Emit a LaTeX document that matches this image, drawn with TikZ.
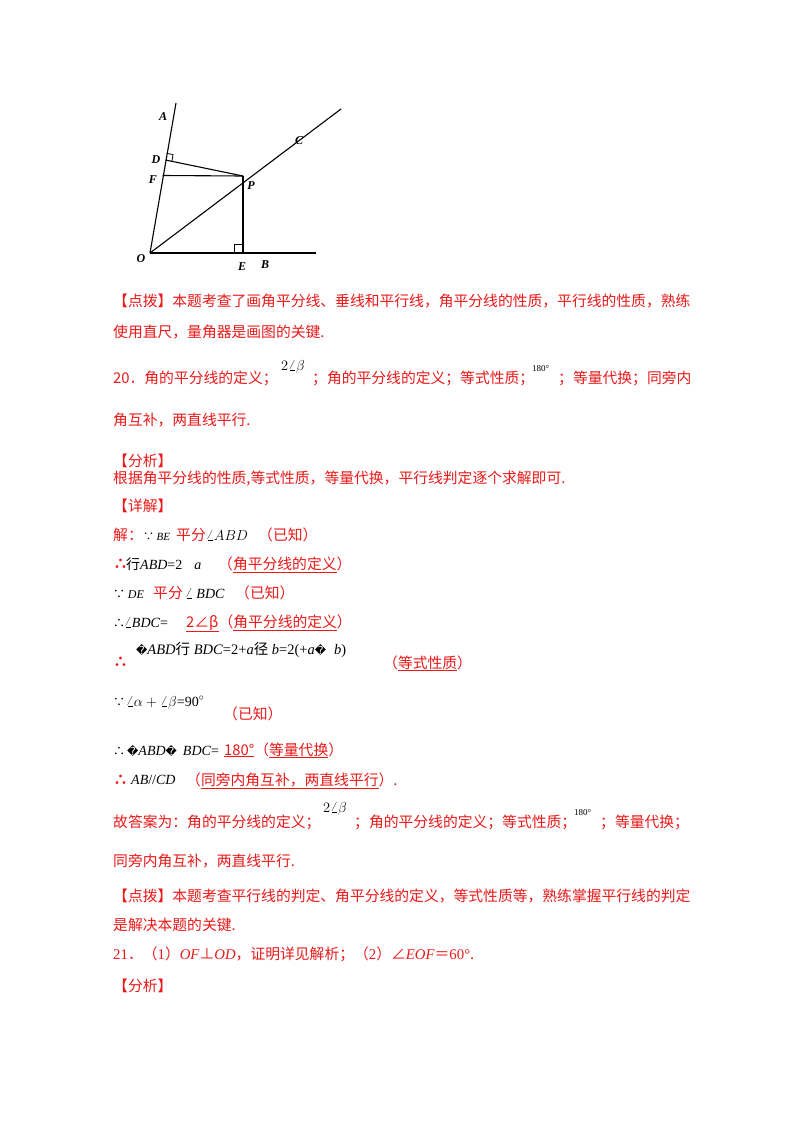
\documentclass[tikz,border=0pt]{standalone}
\usepackage{fontspec}
\setmainfont{Liberation Serif}
\newfontfamily\zh{Noto Sans CJK SC}
\newfontfamily\dv{DejaVu Sans}
\definecolor{rd}{RGB}{235,25,25}
\newcommand{\mi}[1]{{\rmfamily\itshape #1}}
\newcommand{\rs}[1]{{\rmfamily #1}}
\newcommand{\bad}{{\dv\fontsize{11}{11}\selectfont �}}
\begin{document}
\begin{tikzpicture}[x=1pt,y=-1pt,
  t/.style={anchor=base west,inner sep=0,text=rd,font=\zh\fontsize{14.8}{15}\selectfont},
  m/.style={anchor=base west,inner sep=0,text=black,font=\fontsize{14}{14}\selectfont},
  lb/.style={inner sep=0,font=\bfseries\itshape\fontsize{12}{12}\selectfont},
  ln/.style={line width=1.1pt}]
\useasboundingbox (0,0) rectangle (800,1132);
\fill[white] (0,0) rectangle (800,1132);
% figure
\coordinate (O) at (150,253);
\coordinate (A) at (176,103);
\coordinate (D) at (165.4,160);
\coordinate (F) at (162.6,175.5);
\coordinate (P) at (243,176);
\coordinate (C) at (341,109);
\coordinate (E) at (243,253);
\coordinate (B) at (316,253);
\draw[ln] (O)--(A); \draw[ln] (O)--(B); \draw[ln] (O)--(C);
\draw[ln] (D)--(P); \draw[ln] (F)--(P); \draw[line width=1.6pt] (P)--(E);
\draw[line width=0.8pt] (234,253)--(234,244)--(243,244);
\draw[line width=0.8pt] (166.6,153.4)--(173,154.5)--(172,161);
\node[lb] at (163,117) {A}; \node[lb] at (299,141) {C};
\node[lb] at (156,160) {D}; \node[lb] at (153,180) {F};
\node[lb] at (251,186) {P}; \node[lb] at (141,259) {O};
\node[lb] at (242,267) {E}; \node[lb] at (265,265) {B};
% text
\node[t] (l1) at (113,306) {【点拨】本题考查了画角平分线、垂线和平行线，角平分线的性质，平行线的性质，熟练};
\node[t] (l2) at (113,337) {使用直尺，量角器是画图的关键.};
\node[t] (l3) at (113,383) {20．角的平分线的定义；};
\node[m] at (281,370) {$2\angle\beta$};
\node[t] at (312,383) {；角的平分线的定义；等式性质；};
\node[m,font=\fontsize{9}{9}\selectfont] at (532,371) {180°};
\node[t] at (558,383) {；等量代换；同旁内};
\node[t] at (113,425) {角互补，两直线平行.};
\node[t] at (113,466) {【分析】};
\node[t] at (113,483) {根据角平分线的性质,等式性质，等量代换，平行线判定逐个求解即可.};
\node[t] at (113,511) {【详解】};
\node[t] at (113,540) {解：};
\node[m,font=\zh\fontsize{11}{11}\selectfont] at (143,540) {∵ \mi{BE}};
\node[t] at (176,540) {平分};
\node[m] at (206,540) {$\angle ABD$};
\node[t] at (258,540) {（已知）};
\node[t,font=\zh\bfseries\fontsize{15}{15}\selectfont] at (113,569) {∴};
\node[m,font=\zh\fontsize{14}{14}\selectfont] at (126,569) {行\mi{ABD}\rs{=2}\hspace{12pt}\mi{a}};
\node[t] at (218,569) {（\underline{角平分线的定义}）};
\node[m,font=\zh\fontsize{12}{12}\selectfont] at (113,598) {∵ \mi{DE}};
\node[t] at (153,598) {平分};
\node[m] at (185,598) {$\angle$ \textit{BDC}};
\node[t] at (235,598) {（已知）};
\node[m,font=\zh\fontsize{12}{12}\selectfont] at (113,627) {∴};
\node[m] at (124,627) {$\angle$\textit{BDC}=};
\node[t] at (186,627) {\underline{2∠β}（\underline{角平分线的定义}）};
\node[t,font=\zh\bfseries\fontsize{15}{15}\selectfont] at (113,667) {∴};
\node[m,font=\fontsize{14.5}{14}\selectfont] at (136,654) {\bad\textit{ABD}{\zh 行} \textit{BDC}=2+\textit{a}{\zh 径} \textit{b}=2(+\textit{a}\bad\hspace{8pt}\textit{b})};
\node[t] at (383,668) {（\underline{等式性质}）};
\node[m,font=\zh\fontsize{12}{12}\selectfont] at (113,706) {∵};
\node[m] at (126,706) {$\angle\alpha+\angle\beta$=90$^{\circ}$};
\node[t] at (223,719) {（已知）};
\node[m,font=\zh\fontsize{12}{12}\selectfont] at (113,755) {∴};
\node[m] at (127,755) {\bad\textit{ABD}\bad\hspace{6pt}\textit{BDC}=};
\node[t] at (224,755) {\underline{180°}（\underline{等量代换}）};
\node[t,font=\zh\bfseries\fontsize{15}{15}\selectfont] at (113,785) {∴};
\node[m] at (131,784) {\textit{AB}//\textit{CD}};
\node[t] at (186,785) {（\underline{同旁内角互补，两直线平行}）.};
\node[t] at (113,827) {故答案为：角的平分线的定义；};
\node[m] at (323,812) {$2\angle\beta$};
\node[t] at (354,827) {；角的平分线的定义；等式性质；};
\node[m,font=\fontsize{9}{9}\selectfont] at (574,815) {180°};
\node[t] at (600,827) {；等量代换；};
\node[t] at (113,866) {同旁内角互补，两直线平行.};
\node[t] at (113,901) {【点拨】本题考查平行线的判定、角平分线的定义，等式性质等，熟练掌握平行线的判定};
\node[t] at (113,930) {是解决本题的关键.};
\node[t] at (113,959) {\rs{21}．（\rs{1}）\mi{OF}⊥\mi{OD}，证明详见解析；（\rs{2}）∠\mi{EOF}＝\rs{60°}.};
\node[t] at (113,991) {【分析】};
\end{tikzpicture}
\end{document}
